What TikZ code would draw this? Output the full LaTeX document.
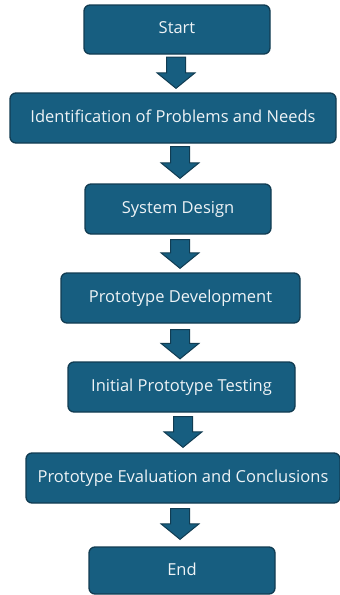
\documentclass[tikz,border=0pt]{standalone}
\usepackage{fontspec}
\setmainfont{Open Sans}
\usetikzlibrary{calc}
\definecolor{boxfill}{HTML}{175E80}
\definecolor{boxline}{HTML}{113C52}
\definecolor{boxtext}{HTML}{EEF3F6}
\tikzset{
  stepbox/.style={draw=boxline, fill=boxfill, line width=1.3pt, rounded corners=6pt,
    text=boxtext, font=\fontsize{16.5}{19}\selectfont, inner sep=0pt, align=center,
    text depth=3pt},
  blockarrow/.style={draw=boxline, fill=boxfill, line width=1pt, line join=miter}
}
\newcommand\blockarr[5]{% from, to, x center, top gap, bottom gap
  \draw[blockarrow] let \p1=(#1.south), \p2=(#2.north) in
    (#3pt-9.5pt,\y1-#4pt) -- (#3pt+9.5pt,\y1-#4pt) -- (#3pt+9.5pt,\y2+#5pt+15.5pt)
    -- (#3pt+19pt,\y2+#5pt+15.5pt) -- (#3pt,\y2+#5pt) -- (#3pt-19pt,\y2+#5pt+15.5pt)
    -- (#3pt-9.5pt,\y2+#5pt+15.5pt) -- cycle;}
\begin{document}
\begin{tikzpicture}[x=1pt,y=-1pt]
\useasboundingbox (0,0) rectangle (340,595);
\node[stepbox, minimum width=186pt, minimum height=49pt] (start) at (177,29.5) {Start};
\node[stepbox, minimum width=326pt, minimum height=50pt] (ident) at (173,118) {Identification of Problems and Needs};
\node[stepbox, minimum width=186pt, minimum height=50pt] (design) at (178,209) {System Design};
\node[stepbox, minimum width=239pt, minimum height=50pt] (dev) at (180.5,298) {Prototype Development};
\node[stepbox, minimum width=227pt, minimum height=50pt] (test) at (181.5,387) {Initial Prototype Testing};
\node[stepbox, minimum width=314pt, minimum height=50pt] (eval) at (183,478) {Prototype Evaluation and Conclusions};
\node[stepbox, minimum width=186pt, minimum height=47pt] (end) at (182,570.5) {End};
\blockarr{start}{ident}{176}{2.5}{4}
\blockarr{ident}{design}{180}{3}{5}
\blockarr{design}{dev}{180}{5}{4}
\blockarr{dev}{test}{180}{6}{2.5}
\blockarr{test}{eval}{183}{4}{5}
\blockarr{eval}{end}{180}{5}{7}
\end{tikzpicture}
\end{document}
